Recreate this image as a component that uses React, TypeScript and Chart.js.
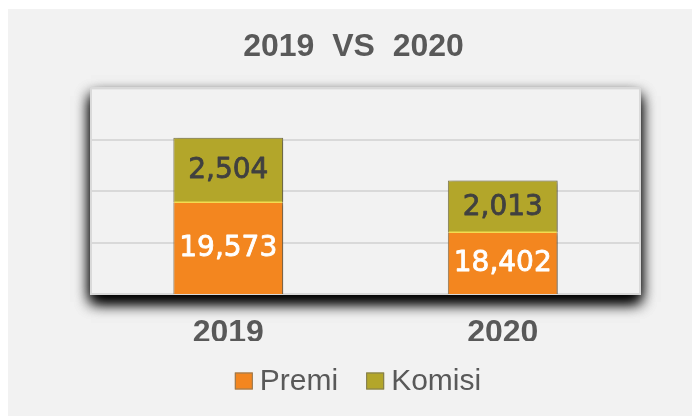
import React, { useEffect, useRef } from "react";
import { Chart, registerables } from "chart.js";

Chart.register(...registerables);

const chartTitle = "2019  VS  2020";
const categories = ["2019", "2020"];
const seriesNames = ["Premi", "Komisi"];
const premiValues = [19573, 18402];
const komisiValues = [2504, 2013];
const yMin = 16000;
const yMax = 24000;
const yStep = 2000;

const BG = "#f2f2f2";
const TEXT = "#595959";
const FAMILY = "'Liberation Sans', Arial, sans-serif";

const plotBgPlugin = {
  id: "plotBg",
  beforeDraw(chart: any) {
    const { ctx, chartArea } = chart;
    const { left, top, right, bottom } = chartArea;
    ctx.save();
    ctx.fillStyle = BG;
    ctx.fillRect(0, 0, chart.width, chart.height);
    ctx.shadowColor = "rgba(0,0,0,1)";
    ctx.shadowBlur = 14;
    ctx.shadowOffsetX = 0;
    ctx.shadowOffsetY = 8;
    ctx.fillStyle = BG;
    ctx.fillRect(left, top, right - left, bottom - top);
    ctx.fillRect(left, top, right - left, bottom - top);
    ctx.restore();
    ctx.save();
    ctx.strokeStyle = "#dadada";
    ctx.lineWidth = 2;
    ctx.strokeRect(left, top, right - left, bottom - top);
    ctx.restore();
  },
};

const barShadowPlugin = {
  id: "barShadow",
  beforeDatasetsDraw(chart: any) {
    const ctx = chart.ctx;
    ctx.save();
    ctx.shadowColor = "rgba(0,0,0,0.35)";
    ctx.shadowBlur = 4;
    ctx.shadowOffsetX = 3;
    ctx.shadowOffsetY = 1;
  },
  afterDatasetsDraw(chart: any) {
    chart.ctx.restore();
  },
};

const labelPlugin = {
  id: "segLabels",
  afterDatasetsDraw(chart: any) {
    const ctx = chart.ctx;
    const area = chart.chartArea;
    ctx.save();
    ctx.shadowColor = "transparent";
    const m0 = chart.getDatasetMeta(0);
    m0.data.forEach((el: any) => {
      ctx.strokeStyle = "#f2dc50";
      ctx.lineWidth = 1.5;
      ctx.beginPath();
      ctx.moveTo(el.x - el.width / 2 + 1, el.y);
      ctx.lineTo(el.x + el.width / 2 - 1, el.y);
      ctx.stroke();
    });
    ctx.font = "28px 'DejaVu Sans'";
    ctx.textAlign = "center";
    ctx.textBaseline = "middle";
    ctx.lineJoin = "round";
    chart.data.datasets.forEach((ds: any, di: number) => {
      const meta = chart.getDatasetMeta(di);
      meta.data.forEach((el: any, i: number) => {
        const v = ds.data[i] as number;
        const base = Math.min(el.base, area.bottom);
        const cy = (el.y + base) / 2;
        const col = di === 0 ? "#ffffff" : "#404040";
        ctx.fillStyle = col;
        ctx.strokeStyle = col;
        ctx.lineWidth = 0.8;
        const txt = v.toLocaleString("en-US");
        ctx.fillText(txt, el.x, cy + 1);
        ctx.strokeText(txt, el.x, cy + 1);
      });
    });
    ctx.restore();
  },
};

const legendPlugin = {
  id: "customLegend",
  afterDraw(chart: any) {
    const ctx = chart.ctx;
    const colors = chart.data.datasets.map((d: any) => d.backgroundColor);
    const borders = chart.data.datasets.map((d: any) => d.borderColor);
    ctx.save();
    ctx.font = `30px ${FAMILY}`;
    ctx.textBaseline = "middle";
    ctx.textAlign = "left";
    const box = 18;
    const boxH = 17;
    const gap = 7;
    const itemGap = 28;
    const widths = seriesNames.map((n) => box + gap + ctx.measureText(n).width);
    const total = widths.reduce((a, b) => a + b, 0) + itemGap * (widths.length - 1);
    let x = chart.width / 2 + 8 - total / 2;
    const cy = 372;
    seriesNames.forEach((n, i) => {
      ctx.fillStyle = colors[i];
      ctx.fillRect(x, cy - boxH / 2, box, boxH);
      ctx.strokeStyle = borders[i];
      ctx.lineWidth = 1;
      ctx.strokeRect(x + 0.5, cy - boxH / 2 + 0.5, box - 1, boxH - 1);
      ctx.fillStyle = TEXT;
      ctx.fillText(n, x + box + gap, cy + 1);
      x += widths[i] + itemGap;
    });
    ctx.restore();
  },
};

export default function App() {
  const ref = useRef<HTMLCanvasElement>(null);

  useEffect(() => {
    if (!ref.current) return;
    const chart = new Chart(ref.current, {
      type: "bar",
      data: {
        labels: categories,
        datasets: [
          {
            label: seriesNames[0],
            data: premiValues,
            backgroundColor: "#f3861f",
            borderColor: "#8f7a5a",
            borderWidth: { top: 0, left: 1, right: 1, bottom: 0 },
            borderSkipped: false,
            barPercentage: 0.4,
            categoryPercentage: 1,
          },
          {
            label: seriesNames[1],
            data: komisiValues,
            backgroundColor: "#b3a62a",
            borderColor: "#7f7a55",
            borderWidth: { top: 1, left: 1, right: 1, bottom: 0 },
            borderSkipped: false,
            barPercentage: 0.4,
            categoryPercentage: 1,
          },
        ],
      },
      options: {
        animation: false,
        responsive: false,
        maintainAspectRatio: false,
        layout: { padding: { left: 7, right: 0, top: 0, bottom: 75 } },
        plugins: {
          title: {
            display: true,
            text: chartTitle,
            color: TEXT,
            font: { family: FAMILY, size: 32, weight: "bold" },
            padding: { top: 19, bottom: 22 },
          },
          legend: { display: false },
          tooltip: { enabled: false },
        },
        scales: {
          x: {
            stacked: true,
            grid: { display: false, drawTicks: false },
            border: { display: false },
            ticks: {
              color: TEXT,
              font: { family: FAMILY, size: 32, weight: "bold" },
              padding: 20,
            },
            afterFit: (s: any) => {
              s.height = 47;
            },
          },
          y: {
            stacked: true,
            min: yMin,
            max: yMax,
            ticks: { display: false, stepSize: yStep },
            grid: { color: "#d9d9d9", lineWidth: 2, drawTicks: false },
            border: { display: false },
            afterFit: (s: any) => {
              s.width = 76;
            },
          },
          yRight: {
            position: "right",
            display: true,
            ticks: { display: false },
            grid: { display: false, drawTicks: false },
            border: { display: false },
            afterFit: (s: any) => {
              s.width = 52;
            },
          },
        },
      },
      plugins: [plotBgPlugin, barShadowPlugin, labelPlugin, legendPlugin],
    } as any);
    return () => chart.destroy();
  }, []);

  return (
    <div
      style={{
        position: "fixed",
        left: 8,
        top: 9,
        width: 684,
        height: 407,
        background: BG,
      }}
    >
      <canvas ref={ref} width={684} height={407} style={{ display: "block" }} />
    </div>
  );
}
